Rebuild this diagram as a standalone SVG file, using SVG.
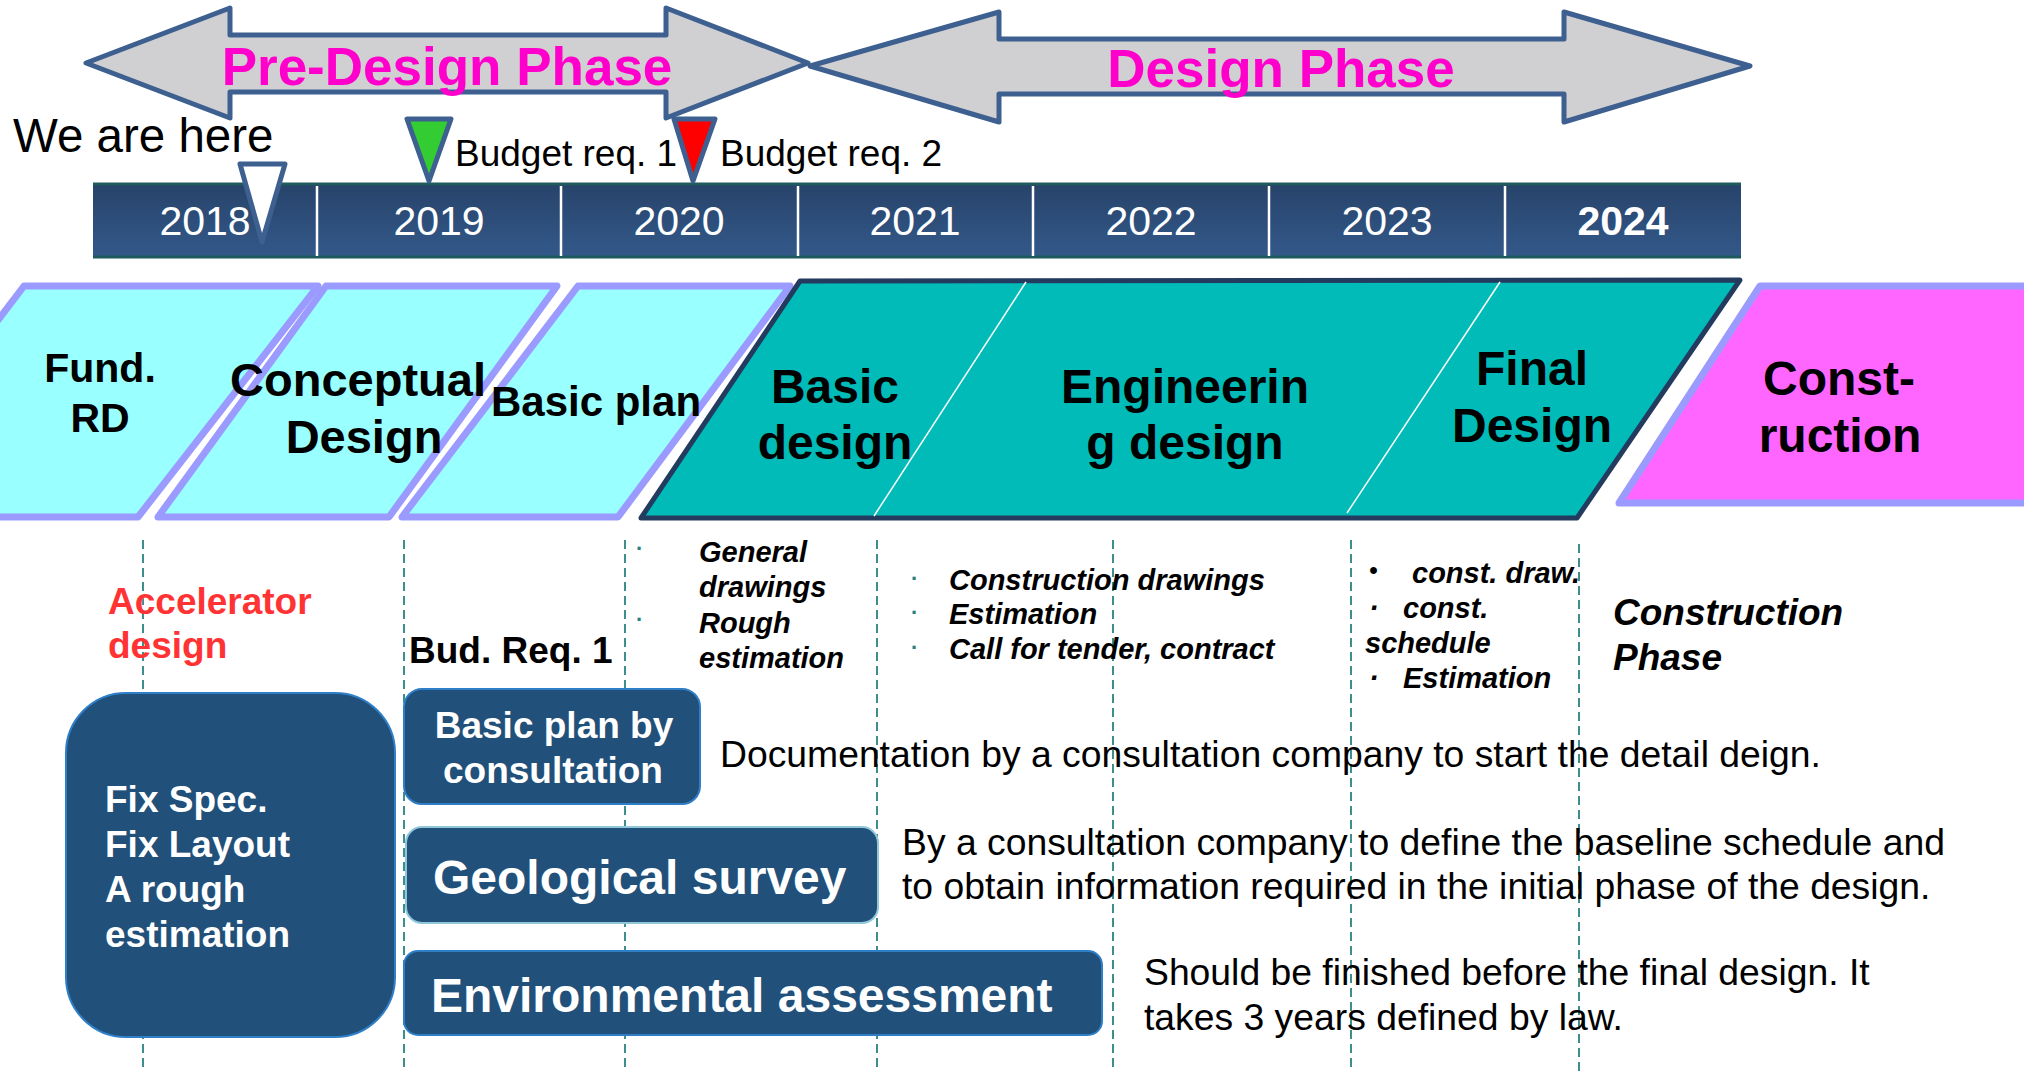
<svg xmlns="http://www.w3.org/2000/svg" width="2024" height="1072" viewBox="0 0 2024 1072">
  <defs>
    <linearGradient id="yearGrad" x1="0" y1="0" x2="0" y2="1">
      <stop offset="0" stop-color="#27436a"/>
      <stop offset="1" stop-color="#33598a"/>
    </linearGradient>
    <style>
      text { font-family: "Liberation Sans", Arial, sans-serif; }
      .phaseArrow { fill: #d0cfd1; stroke: #3d6090; stroke-width: 5; stroke-linejoin: round; }
      .phaseTitle { fill: #ff00cc; font-size: 53px; font-weight: bold; text-anchor: middle; }
      .marker { stroke: #3d6090; stroke-width: 5; stroke-linejoin: round; }
      .label { fill: #000; font-size: 37px; }
      .here { fill: #000; font-size: 47.5px; }
      .year { fill: #fff; font-size: 41px; text-anchor: middle; }
      .divider { stroke: #fff; stroke-width: 2.5; }
      .early { fill: #99ffff; stroke: #9b9bff; stroke-width: 7; stroke-linejoin: round; }
      .design { fill: #00bbb8; stroke: #233b5f; stroke-width: 5; stroke-linejoin: round; }
      .build { fill: #ff66ff; stroke: #9b9bff; stroke-width: 7; stroke-linejoin: round; }
      .split { stroke: #fff; stroke-width: 1.5; }
      .stage { fill: #000; font-weight: bold; text-anchor: middle; }
      .guide { stroke: #3f8e8e; stroke-width: 2; stroke-dasharray: 9 5; }
      .note { fill: #000; font-size: 29px; font-weight: bold; font-style: italic; }
      .phaseNote { fill: #000; font-size: 37px; font-weight: bold; font-style: italic; }
      .dot { fill: #2a8080; font-size: 22px; font-weight: bold; }
      .task { fill: #21507a; stroke: #2e7fc8; stroke-width: 2; }
      .taskSoft { fill: #21507a; stroke: #90c8da; stroke-width: 2; }
      .taskText { fill: #fff; font-weight: bold; }
      .desc { fill: #000; font-size: 37.3px; }
    </style>
  </defs>

  <rect x="0" y="0" width="2024" height="1072" fill="#fff"/>

  <!-- phase arrows -->
  <g id="design-phase">
    <polygon class="phaseArrow" points="810,66 999,12 999,39 1564,39 1564,12 1750,66 1564,122 1564,94 999,94 999,122"/>
    <text class="phaseTitle" x="1281" y="87">Design Phase</text>
  </g>
  <g id="pre-design-phase">
    <polygon class="phaseArrow" points="86,63 230,8 230,35 666,35 666,8 808,63 666,118 666,92 230,92 230,118"/>
    <text class="phaseTitle" x="447" y="85">Pre-Design Phase</text>
  </g>

  <!-- year scale -->
  <g id="years">
    <rect x="93" y="184" width="1648" height="73" fill="url(#yearGrad)"/>
    <line x1="93" y1="184" x2="1741" y2="184" stroke="#1f5a5c" stroke-width="3"/>
    <line x1="93" y1="257" x2="1741" y2="257" stroke="#1f5a5c" stroke-width="3"/>
    <line class="divider" x1="317" y1="186" x2="317" y2="256"/>
    <line class="divider" x1="561" y1="186" x2="561" y2="256"/>
    <line class="divider" x1="798" y1="186" x2="798" y2="256"/>
    <line class="divider" x1="1033" y1="186" x2="1033" y2="256"/>
    <line class="divider" x1="1269" y1="186" x2="1269" y2="256"/>
    <line class="divider" x1="1505" y1="186" x2="1505" y2="256"/>
    <text class="year" x="205" y="235">2018</text>
    <text class="year" x="439" y="235">2019</text>
    <text class="year" x="679" y="235">2020</text>
    <text class="year" x="915" y="235">2021</text>
    <text class="year" x="1151" y="235">2022</text>
    <text class="year" x="1387" y="235">2023</text>
    <text class="year" x="1623" y="235" style="font-weight:bold">2024</text>
  </g>

  <!-- milestones -->
  <g id="we-are-here">
    <text class="here" x="13" y="152">We are here</text>
    <polygon class="marker" fill="#fff" points="240,164 285,164 262,242"/>
  </g>
  <g id="budget-req-1">
    <polygon class="marker" fill="#33cc33" points="407,119 451,119 429,181"/>
    <text class="label" x="455" y="166">Budget req. 1</text>
  </g>
  <g id="budget-req-2">
    <polygon class="marker" fill="#ff0000" points="674,119 715,119 693,181"/>
    <text class="label" x="720" y="166">Budget req. 2</text>
  </g>

  <!-- year guide lines -->
  <g id="guides">
    <line class="guide" x1="143" y1="540" x2="143" y2="1072"/>
    <line class="guide" x1="404" y1="540" x2="404" y2="1072"/>
    <line class="guide" x1="625" y1="540" x2="625" y2="1072"/>
    <line class="guide" x1="877" y1="540" x2="877" y2="1072"/>
    <line class="guide" x1="1113" y1="540" x2="1113" y2="1072"/>
    <line class="guide" x1="1351" y1="540" x2="1351" y2="1072"/>
    <line class="guide" x1="1579" y1="544" x2="1579" y2="1072"/>
  </g>

  <!-- project stages -->
  <g id="stage-fund-rd">
    <polygon class="early" points="-152,517 24,286 318,286 138,517"/>
    <text class="stage" style="font-size:41px" x="100" y="382">Fund.</text>
    <text class="stage" style="font-size:41px" x="100" y="432">RD</text>
  </g>
  <g id="stage-conceptual">
    <polygon class="early" points="158,517 326,286 557,286 389,517"/>
    <text class="stage" style="font-size:47px" x="358" y="396">Conceptual</text>
    <text class="stage" style="font-size:47px" x="364" y="453">Design</text>
  </g>
  <g id="stage-basic-plan">
    <polygon class="early" points="402,517 578,286 790,286 618,517"/>
    <text class="stage" style="font-size:42px" x="596" y="416">Basic plan</text>
  </g>
  <g id="stage-design">
    <polygon class="design" points="641,518 800,281 1740,280 1577,518"/>
    <line class="split" x1="1026" y1="282" x2="874" y2="516"/>
    <line class="split" x1="1500" y1="282" x2="1347" y2="513"/>
    <text class="stage" style="font-size:48px" x="835" y="403">Basic</text>
    <text class="stage" style="font-size:48px" x="835" y="459">design</text>
    <text class="stage" style="font-size:48px" x="1185" y="403">Engineerin</text>
    <text class="stage" style="font-size:48px" x="1185" y="459">g design</text>
    <text class="stage" style="font-size:48px" x="1532" y="385">Final</text>
    <text class="stage" style="font-size:48px" x="1532" y="442">Design</text>
  </g>
  <g id="stage-construction">
    <polygon class="build" points="1619,503 1760,286 2040,286 2040,503"/>
    <text class="stage" style="font-size:48px" x="1839" y="395">Const-</text>
    <text class="stage" style="font-size:48px" x="1840" y="452">ruction</text>
  </g>

  <!-- stage notes -->
  <g id="note-accelerator">
    <text fill="#ff3333" font-size="37" font-weight="bold" x="108" y="614">Accelerator</text>
    <text fill="#ff3333" font-size="37" font-weight="bold" x="108" y="658">design</text>
  </g>
  <g id="note-budget">
    <text class="label" style="font-weight:bold" x="409" y="663">Bud. Req. 1</text>
  </g>
  <g id="note-basic-design">
    <text class="dot" x="636" y="556">·</text>
    <text class="dot" x="636" y="627">·</text>
    <text class="note" x="699" y="562">General</text>
    <text class="note" x="699" y="597">drawings</text>
    <text class="note" x="699" y="633">Rough</text>
    <text class="note" x="699" y="668">estimation</text>
  </g>
  <g id="note-engineering">
    <text class="dot" x="911" y="586">·</text>
    <text class="dot" x="911" y="620">·</text>
    <text class="dot" x="911" y="655">·</text>
    <text class="note" x="949" y="590">Construction drawings</text>
    <text class="note" x="949" y="624">Estimation</text>
    <text class="note" x="949" y="659">Call for tender, contract</text>
  </g>
  <g id="note-final">
    <text class="note" x="1369" y="578" style="font-size:24px">•</text>
    <text class="note" x="1412" y="583">const. draw.</text>
    <text class="note" x="1369" y="618">·</text>
    <text class="note" x="1403" y="618">const.</text>
    <text class="note" x="1365" y="653">schedule</text>
    <text class="note" x="1369" y="688">·</text>
    <text class="note" x="1403" y="688">Estimation</text>
  </g>
  <g id="note-construction">
    <text class="phaseNote" x="1613" y="625">Construction</text>
    <text class="phaseNote" x="1613" y="670">Phase</text>
  </g>

  <!-- work items -->
  <g id="task-fix-spec">
    <rect class="task" x="66" y="693" width="329" height="344" rx="60" ry="60"/>
    <text class="taskText" font-size="37" x="105" y="812">Fix Spec.</text>
    <text class="taskText" font-size="37" x="105" y="857">Fix Layout</text>
    <text class="taskText" font-size="37" x="105" y="902">A rough</text>
    <text class="taskText" font-size="37" x="105" y="947">estimation</text>
  </g>
  <g id="task-basic-plan">
    <rect class="task" x="404" y="689" width="296" height="115" rx="18" ry="18"/>
    <text class="taskText" font-size="37" text-anchor="middle" x="554" y="738">Basic plan by</text>
    <text class="taskText" font-size="37" text-anchor="middle" x="553" y="783">consultation</text>
    <text class="desc" x="720" y="767">Documentation by a consultation company to start the detail deign.</text>
  </g>
  <g id="task-geological">
    <rect class="taskSoft" x="406" y="827" width="472" height="96" rx="16" ry="16"/>
    <text class="taskText" font-size="48" x="433" y="894">Geological survey</text>
    <text class="desc" x="902" y="855">By a consultation company to define the baseline schedule and</text>
    <text class="desc" x="902" y="899">to obtain information required in the initial phase of the design.</text>
  </g>
  <g id="task-environmental">
    <rect class="task" x="404" y="951" width="698" height="84" rx="14" ry="14"/>
    <text class="taskText" font-size="48" x="431" y="1012">Environmental assessment</text>
    <text class="desc" x="1144" y="985">Should be finished before the final design. It</text>
    <text class="desc" x="1144" y="1030">takes 3 years defined by law.</text>
  </g>
</svg>
